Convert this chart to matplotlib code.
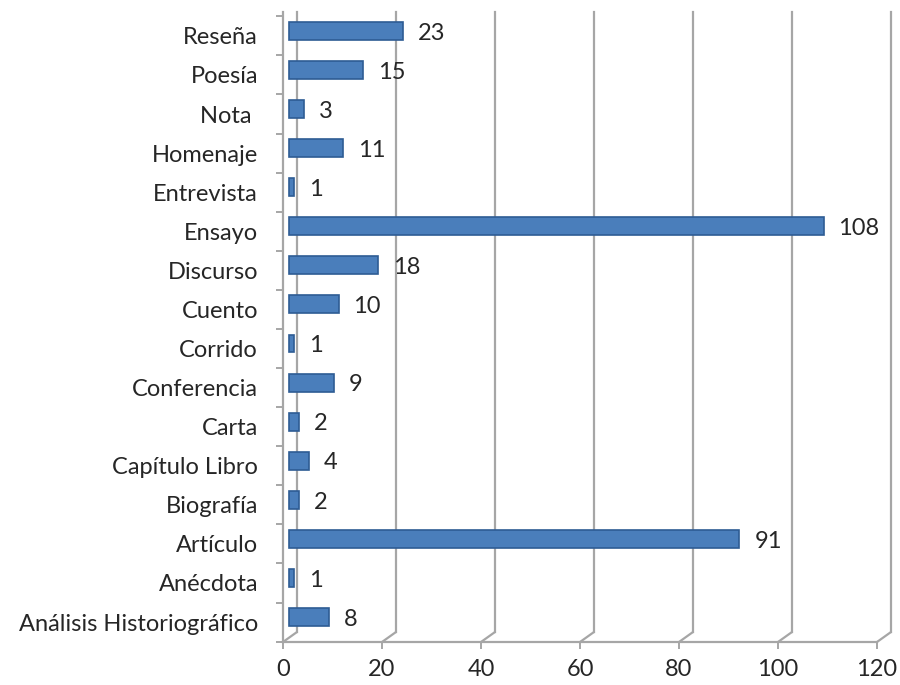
import matplotlib
matplotlib.use('Agg')
import matplotlib.pyplot as plt
from matplotlib.transforms import ScaledTranslation

plt.rcParams['font.family'] = ['Lato', 'DejaVu Sans']

categories = ['Análisis Historiográfico', 'Anécdota', 'Artículo', 'Biografía',
              'Capítulo Libro', 'Carta', 'Conferencia', 'Corrido', 'Cuento',
              'Discurso', 'Ensayo', 'Entrevista', 'Homenaje', 'Nota ',
              'Poesía', 'Reseña']
values = [8, 1, 91, 2, 4, 2, 9, 1, 10, 18, 108, 1, 11, 3, 15, 23]
x_ticks = [0, 20, 40, 60, 80, 100, 120]

BAR = '#4A7EBB'
EDGE = '#2E5C94'
GRID = '#A6A6A6'
TEXT = '#262626'
FS = 17

fig = plt.figure(figsize=(9, 6.85), dpi=100)
ax = fig.add_axes([283 / 900, 1 - 642 / 685, (877 - 283) / 900, (642 - 12) / 685])
ax.set_xlim(0, 120)
ax.set_ylim(-0.51, 15.61)

# depth offsets (pixels -> inches)
back = ScaledTranslation(14 / 100, 10 / 100, fig.dpi_scale_trans)
mid = ScaledTranslation(6 / 100, 5 / 100, fig.dpi_scale_trans)

# back wall gridlines + floor slants
for x in x_ticks:
    ln = ax.axvline(x, ymin=0, ymax=1 - 10 / 630, color=GRID, lw=1.6,
                    zorder=1, clip_on=False)
    ln.set_transform(ln.get_transform() + back)
    ax.annotate('', xy=(x, -0.51), xytext=(14 * 0.72, 10 * 0.72),
                textcoords='offset points', annotation_clip=False,
                arrowprops=dict(arrowstyle='-', color=GRID, lw=1.6,
                                shrinkA=0, shrinkB=0), zorder=1)

# bars at mid depth
ypos = list(range(len(categories)))
bars = ax.barh(ypos, values, height=0.46, color=BAR, edgecolor=EDGE,
               linewidth=1.2, zorder=3)
for b in bars:
    b.set_transform(ax.transData + mid)

for y, v in zip(ypos, values):
    ax.annotate(str(v), xy=(v, y), xytext=(15, 2), textcoords='offset points',
                va='center', ha='left', fontsize=FS, color=TEXT, zorder=4)

# axes styling
for s in ['top', 'right']:
    ax.spines[s].set_visible(False)
ax.spines['left'].set_color(GRID)
ax.spines['bottom'].set_color(GRID)
ax.spines['left'].set_linewidth(1.6)
ax.spines['bottom'].set_linewidth(1.6)

ax.set_yticks(ypos)
ax.set_yticklabels(categories, fontsize=FS, color=TEXT)
ax.tick_params(axis='y', which='major', length=0, pad=18)
ax.set_yticks([i - 0.5 for i in range(len(categories) + 1)], minor=True)
ax.tick_params(axis='y', which='minor', length=5, width=1.4, color=GRID)

ax.set_xticks(x_ticks)
ax.set_xticklabels([str(t) for t in x_ticks], fontsize=FS, color=TEXT)
ax.tick_params(axis='x', length=5, width=1.4, color=GRID, pad=7)

fig.savefig('out.png', dpi=100)
